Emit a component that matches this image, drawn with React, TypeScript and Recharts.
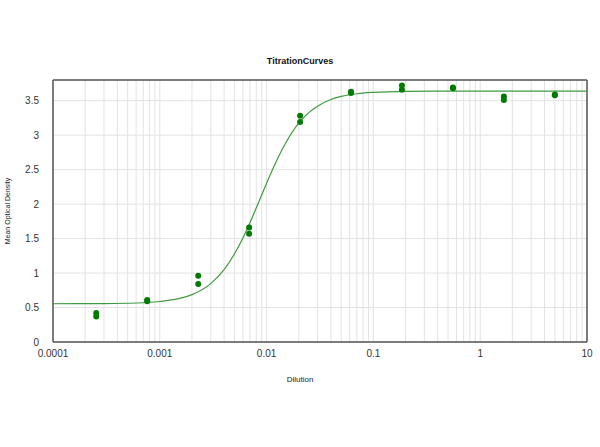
import React from "react";
import {
  ComposedChart,
  Scatter,
  Line,
  XAxis,
  YAxis,
  CartesianGrid,
  ReferenceLine,
} from "recharts";

// dilution steps (3-fold series) and replicate OD readings
const dilutions = [
  0.000254, 0.000762, 0.00229, 0.00686, 0.0206, 0.0617, 0.185, 0.556, 1.667, 5,
];
const odRep1 = [0.42, 0.61, 0.96, 1.66, 3.28, 3.63, 3.72, 3.69, 3.56, 3.59];
const odRep2 = [0.37, 0.59, 0.84, 1.57, 3.19, 3.61, 3.66, 3.68, 3.51, 3.58];

// fitted curve
const curveX = [
  0.0001, 0.0003, 0.0006, 0.001, 0.0015, 0.002, 0.003, 0.004, 0.005, 0.006,
  0.007, 0.008, 0.01, 0.012, 0.015, 0.02, 0.025, 0.03, 0.04, 0.05, 0.07, 0.1,
  0.2, 0.5, 1, 10,
];
const curveY = [
  0.555, 0.558, 0.566, 0.587, 0.628, 0.687, 0.847, 1.049, 1.276, 1.509, 1.734,
  1.944, 2.303, 2.583, 2.88, 3.174, 3.331, 3.421, 3.517, 3.562, 3.601, 3.621,
  3.636, 3.64, 3.64, 3.64,
];

const decadeTicks = [0.0001, 0.001, 0.01, 0.1, 1, 10];
const yTicks = [0, 0.5, 1, 1.5, 2, 2.5, 3, 3.5];

// every 1..9 multiple in each decade gets a grid line
const gridTicks: number[] = [];
decadeTicks.slice(0, -1).forEach((d) => {
  for (let m = 1; m < 10; m++) gridTicks.push(+(d * m).toPrecision(3));
});
gridTicks.push(10);

const points = [
  ...dilutions.map((x, i) => ({ x, y: odRep1[i] })),
  ...dilutions.map((x, i) => ({ x, y: odRep2[i] })),
];
const curve = curveX.map((x, i) => ({ x, y: curveY[i] }));

const font = "'Liberation Sans', Arial, sans-serif";

const Dot = (p: any) => <circle cx={p.cx} cy={p.cy} r={3} fill="#007a00" />;

export default function App() {
  return (
    <div
      style={{
        position: "absolute",
        left: 0,
        top: 0,
        width: 600,
        height: 447,
        background: "#fff",
        fontFamily: font,
      }}
    >
      <div
        style={{
          position: "absolute",
          left: 0,
          width: 600,
          top: 56,
          textAlign: "center",
          fontSize: 9,
          fontWeight: "bold",
          color: "#111",
        }}
      >
        TitrationCurves
      </div>
      <div
        style={{
          position: "absolute",
          left: 300,
          top: 375,
          transform: "translateX(-50%)",
          fontSize: 8,
          color: "#222",
        }}
      >
        Dilution
      </div>
      <div
        style={{
          position: "absolute",
          left: 7,
          top: 211,
          transform: "translate(-50%, -50%) rotate(-90deg)",
          fontSize: 7,
          color: "#222",
          whiteSpace: "nowrap",
        }}
      >
        Mean Optical Density
      </div>
      <ComposedChart
        width={600}
        height={447}
        margin={{ top: 80, right: 13, left: 0, bottom: 75 }}
        style={{ position: "absolute", left: 0, top: 0 }}
      >
        <CartesianGrid stroke="#e3e3e3" strokeWidth={1} />
        <XAxis
          dataKey="x"
          type="number"
          scale="log"
          domain={[0.0001, 10]}
          ticks={gridTicks}
          interval={0}
          allowDataOverflow
          tickFormatter={(v: number) =>
            decadeTicks.includes(v) ? String(v) : ""
          }
          tick={{ fontSize: 10, fill: "#333", fontFamily: font }}
          tickLine={false}
          axisLine={{ stroke: "#555", strokeWidth: 1.5 }}
          tickMargin={2}
          height={30}
        />
        <YAxis
          dataKey="y"
          type="number"
          domain={[0, 3.8]}
          ticks={yTicks}
          allowDataOverflow
          tick={{ fontSize: 10, fill: "#333", fontFamily: font }}
          tickLine={false}
          axisLine={{ stroke: "#555", strokeWidth: 1.5 }}
          tickMargin={8}
          width={53}
        />
        <ReferenceLine y={3.8} stroke="#555" strokeWidth={1.5} />
        <ReferenceLine x={10} stroke="#555" strokeWidth={1.5} />
        <Line
          data={curve}
          dataKey="y"
          type="monotone"
          stroke="#3f9a3f"
          strokeWidth={1.2}
          dot={false}
          isAnimationActive={false}
        />
        <Scatter
          data={points}
          dataKey="y"
          shape={Dot}
          isAnimationActive={false}
        />
      </ComposedChart>
    </div>
  );
}
